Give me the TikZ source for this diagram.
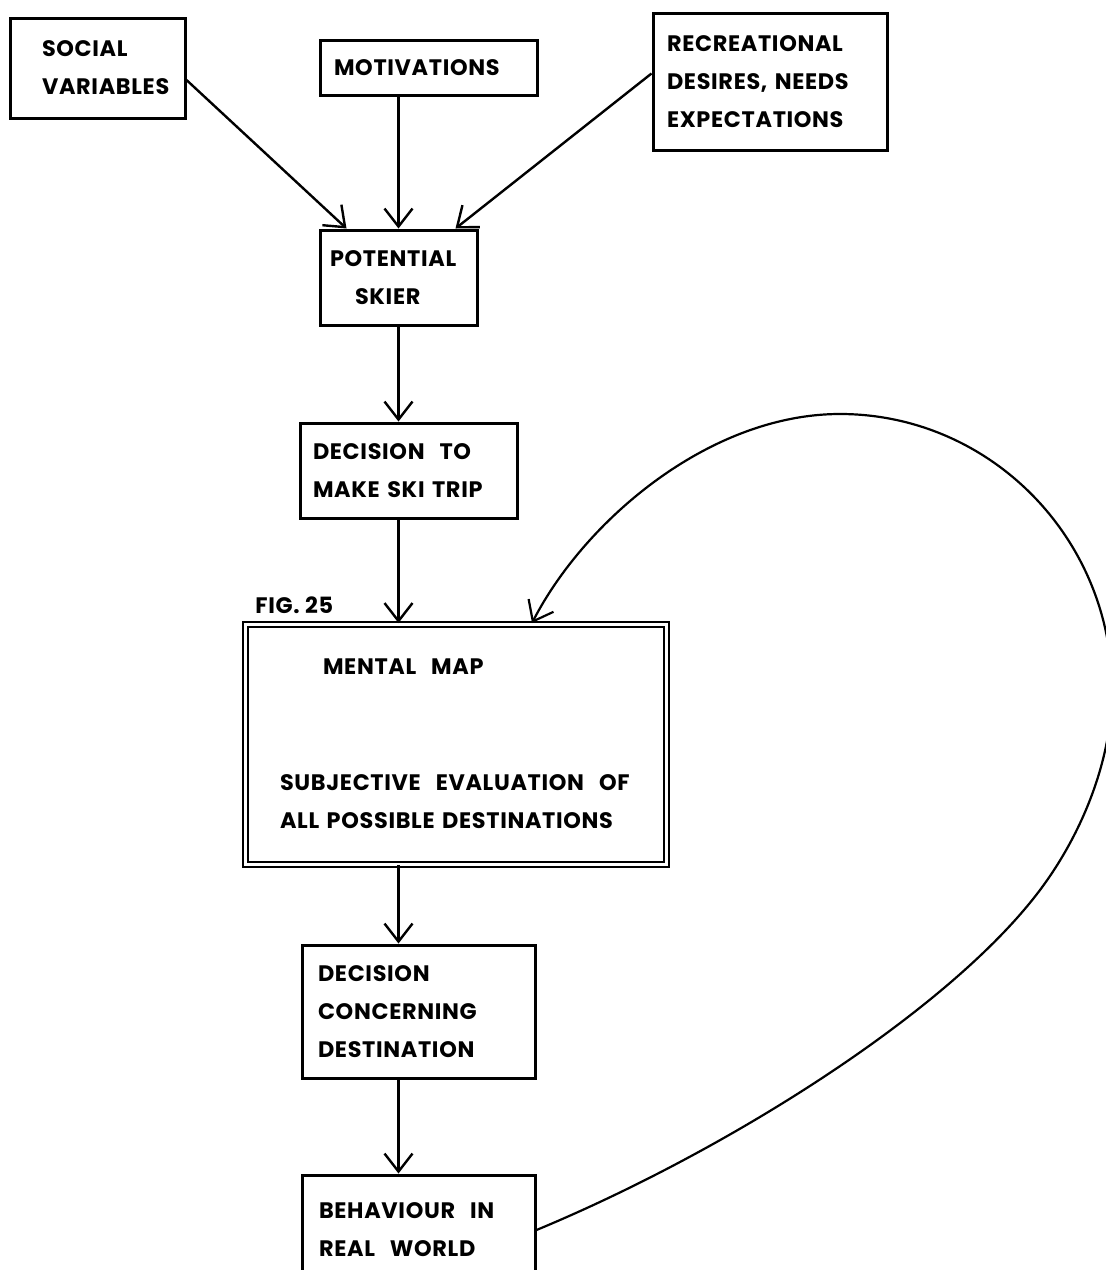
\documentclass[tikz,border=0pt]{standalone}
\usepackage{fontspec}
\setmainfont{Poppins}[LetterSpace=3]
\usetikzlibrary{arrows.meta,calc}
\begin{document}
\begin{tikzpicture}[x=0.5pt,y=-0.5pt,
  txt/.style={font=\fontsize{11.2}{19}\selectfont\bfseries},
  box/.style={draw, line width=1.5pt, txt, align=left, inner ysep=0pt},
  arr/.style={line width=1.2pt, -{Straight Barb[length=9pt,width=14pt,line width=1.2pt]}},
  fb/.style={line width=1.1pt, -{Straight Barb[length=9pt,width=14pt,line width=1.1pt]}}]
\clip (0,0) rectangle (1106,1270);
\fill[white] (0,0) rectangle (1106,1270);

\node[box, inner xsep=16pt, text width=55.5pt, minimum height=50pt] (social) at (97.5,68) {SOCIAL\\VARIABLES};
\node[box, inner xsep=7pt, text width=94.5pt, minimum height=27.5pt] (motiv) at (428.5,67.5) {MOTIVATIONS};
\node[box, inner xsep=7pt, text width=103pt, minimum height=68.5pt] (recr) at (770,81.5) {RECREATIONAL\\DESIRES, NEEDS\\EXPECTATIONS};
\node[box, inner xsep=5pt, text width=68.5pt, minimum height=47.5pt] (potential) at (398.5,277.5) {POTENTIAL\\\hspace*{12.5pt}SKIER};
\node[box, inner xsep=6.5pt, text width=95.5pt, minimum height=47.5pt] (trip) at (408.5,470.5) {DECISION\ \ TO\\MAKE SKI TRIP};
\node[box, line width=1pt, double, double distance=1.5pt, inner xsep=17.5pt, text width=175.5pt, minimum height=120pt] (mental) at (455.5,744)
  {\hspace*{21.5pt}MENTAL\ \ MAP\\[39pt]SUBJECTIVE\ \ EVALUATION\ \ OF\\ALL POSSIBLE DESTINATIONS};
\node[txt, anchor=base west, inner sep=0pt] (fig) at (255,613) {FIG.\ 25};
\node[box, inner xsep=8pt, text width=100.5pt, minimum height=66.5pt] (dest) at (418.5,1011.5) {DECISION\\CONCERNING\\DESTINATION};
\node[box, inner xsep=8.5pt, text width=99.5pt, minimum height=55pt] (behav) at (418.5,1230) {BEHAVIOUR\ \ IN\\REAL\ \ WORLD};

\coordinate (s1) at ($(social.east)+(0,12)$);
\coordinate (r1) at ($(recr.west)+(0,-8)$);
\coordinate (p1) at ($(potential.north west)+(28,0)$);
\coordinate (p3) at ($(potential.north west)+(137,0)$);
\coordinate (m1) at ($(mental.north west)+(288,0)$);

\draw[arr] (s1) -- (p1);
\draw[arr] (motiv.south -| potential.north) -- (potential.north);
\draw[arr] (r1) -- (p3);
\draw[arr] (potential.south) -- (potential.south |- trip.north);
\draw[arr] (trip.south -| potential.south) -- (mental.north -| potential.south);
\draw[arr] (mental.south -| potential.south) -- (dest.north -| potential.south);
\draw[arr] (dest.south -| potential.south) -- (behav.north -| potential.south);

\draw[fb] (behav.east) .. controls (729,1150) and (950,1010) .. (1040,890)
  .. controls (1082,834) and (1112,760) .. (1112,690)
  .. controls (1112,538) and (990,414) .. (840,414)
  .. controls (710,414) and (585,520) .. (m1);
\end{tikzpicture}
\end{document}
